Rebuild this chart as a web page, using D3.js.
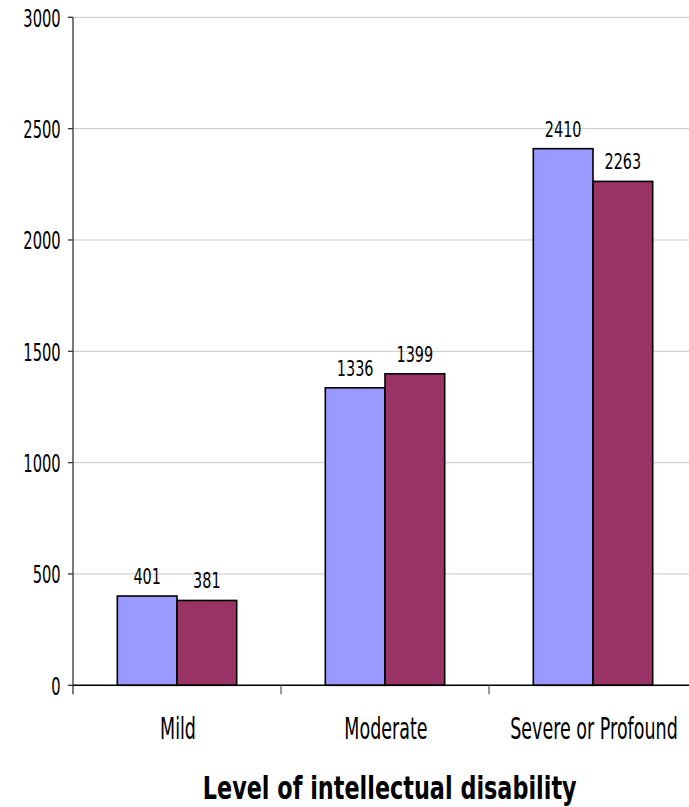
<!DOCTYPE html>
<html>
<head>
<meta charset="utf-8">
<script src="https://cdn.jsdelivr.net/npm/d3@7"></script>
<style>
  html, body { margin: 0; padding: 0; background: #ffffff; }
  svg { display: block; }
</style>
</head>
<body>
<svg id="chart" width="689" height="807"></svg>
<script>
// ---- data ----
const categories = ["Mild", "Moderate", "Severe or Profound"];
const seriesKeys = ["group1", "group2"];
const group1Values = [401, 1336, 2410];
const group2Values = [381, 1399, 2263];
const yTickValues = [0, 500, 1000, 1500, 2000, 2500, 3000];
const axisTitle = "Level of intellectual disability";

// ---- layout ----
const W = 689, H = 807;
const plotLeft = 73, plotRight = 697, plotTop = 17.3, plotBottom = 685.3;
const colors = { group1: "#9999FF", group2: "#993366" };
const FONT = "'DejaVu Sans', Verdana, sans-serif";

const svg = d3.select("#chart");
svg.append("rect").attr("width", W).attr("height", H).attr("fill", "#fff");

const y = d3.scaleLinear().domain([0, 3000]).range([plotBottom, plotTop]);
const x0 = d3.scaleBand().domain(categories).range([plotLeft, plotRight]).padding(0);
const groupW = x0.bandwidth() * 0.574;
const x1 = d3.scaleBand().domain(seriesKeys).range([0, groupW]).padding(0);

const rows = categories.map((c, i) => ({
  category: c,
  values: [
    { key: "group1", value: group1Values[i] },
    { key: "group2", value: group2Values[i] }
  ]
}));

// gridlines
svg.append("g").selectAll("line").data(yTickValues.filter(v => v > 0)).join("line")
  .attr("x1", plotLeft).attr("x2", W)
  .attr("y1", d => y(d)).attr("y2", d => y(d))
  .attr("stroke", "#c8c8c8").attr("stroke-width", 1);

function condensed(g, text, opts) {
  return g.append("text")
    .attr("font-family", FONT)
    .attr("font-size", opts.size)
    .attr("font-weight", opts.weight || "normal")
    .attr("text-anchor", opts.anchor || "middle")
    .attr("fill", "#000")
    .text(text);
}
function scaleFor(sample, size, weight, targetWidth) {
  const t = svg.append("text").attr("font-family", FONT).attr("font-size", size)
    .attr("font-weight", weight || "normal").text(sample);
  const w = t.node().getComputedTextLength();
  t.remove();
  return targetWidth / w;
}

const sTick = scaleFor("1000", 24, "normal", 37.4);
const sVal = scaleFor("1336", 21, "normal", 36.7);
const sCat = scaleFor("Moderate", 29.5, "normal", 83.3);
const sTitle = scaleFor(axisTitle, 32, "bold", 374);

// bars
const groups = svg.append("g").selectAll("g.cat").data(rows).join("g")
  .attr("class", "cat")
  .attr("transform", d => `translate(${x0(d.category) + (x0.bandwidth() - groupW) / 2},0)`);

groups.selectAll("rect").data(d => d.values).join("rect")
  .attr("x", d => x1(d.key))
  .attr("y", d => y(d.value))
  .attr("width", x1.bandwidth())
  .attr("height", d => y(0) - y(d.value))
  .attr("fill", d => colors[d.key])
  .attr("stroke", "#000")
  .attr("stroke-width", 1.6);

// value labels
groups.each(function(d) {
  const g = d3.select(this);
  d.values.forEach(v => {
    const lg = g.append("g")
      .attr("transform", `translate(${x1(v.key) + x1.bandwidth() / 2},${y(v.value) - 12}) scale(${sVal},1)`);
    condensed(lg, String(v.value), { size: 21 });
  });
});

// y axis line
svg.append("line").attr("x1", plotLeft).attr("x2", plotLeft)
  .attr("y1", plotTop).attr("y2", plotBottom + 9)
  .attr("stroke", "#333").attr("stroke-width", 1.3);

// y ticks
const yt = svg.append("g").selectAll("g").data(yTickValues).join("g");
yt.append("line").attr("x1", plotLeft - 5).attr("x2", plotLeft)
  .attr("y1", d => y(d)).attr("y2", d => y(d))
  .attr("stroke", "#333").attr("stroke-width", 1.3);
yt.each(function(d) {
  const lg = d3.select(this).append("g")
    .attr("transform", `translate(60.7,${y(d) + 9.5}) scale(${sTick},1)`);
  condensed(lg, String(d), { size: 24, anchor: "end" });
});

// x axis line
svg.append("line").attr("x1", plotLeft).attr("x2", W)
  .attr("y1", plotBottom).attr("y2", plotBottom)
  .attr("stroke", "#000").attr("stroke-width", 1.6);

// category tick marks at band boundaries
const boundaries = categories.slice(1).map(c => x0(c));
svg.append("g").selectAll("line").data(boundaries).join("line")
  .attr("x1", d => d).attr("x2", d => d)
  .attr("y1", plotBottom).attr("y2", plotBottom + 9)
  .attr("stroke", "#555").attr("stroke-width", 1.2);

// category labels
categories.forEach(c => {
  const lg = svg.append("g")
    .attr("transform", `translate(${x0(c) + x0.bandwidth() / 2 + 1},739.3) scale(${sCat},1)`);
  condensed(lg, c, { size: 29.5 });
});

// axis title
const tg = svg.append("g").attr("transform", `translate(389.7,799) scale(${sTitle},1)`);
condensed(tg, axisTitle, { size: 32, weight: "bold" });
</script>
</body>
</html>
